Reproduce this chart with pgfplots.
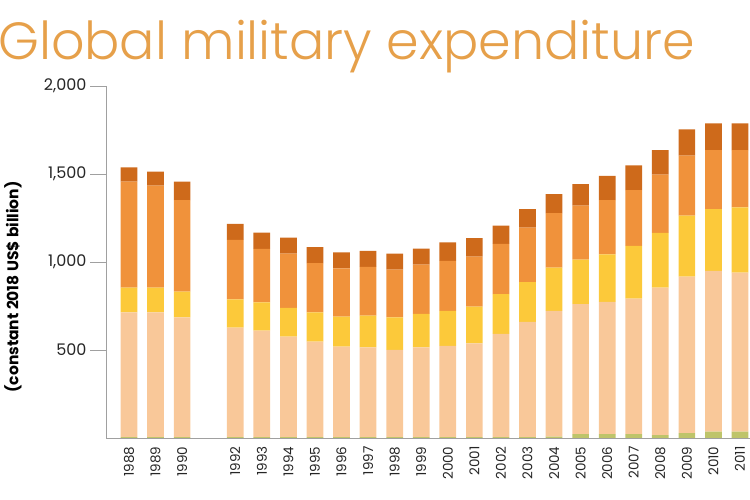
\documentclass[border=0pt]{standalone}
\usepackage{fontspec}
\setmainfont{Poppins}
\newfontfamily\titlefont{Poppins Light}
\usepackage{pgfplots}
\pgfplotsset{compat=1.18}
\usepackage{pgfplotstable}
\definecolor{cgreen}{HTML}{BEC46A}
\definecolor{cpeach}{HTML}{F9C899}
\definecolor{cyellow}{HTML}{FCC93A}
\definecolor{corange}{HTML}{F0923B}
\definecolor{cdark}{HTML}{CE6A1B}
\definecolor{ctitle}{HTML}{E6A04A}
\definecolor{axisgray}{HTML}{A0A0A0}
\pgfplotstableread{
year green peach yellow orange dark
1988 5 709 140 602 82
1989 5 709 140 580 79
1990 5 681 145 521 104
1992 5 622 161 337 91
1993 5 605 161 303 93
1994 5 571 164 308 90
1995 5 542 167 279 91
1996 5 514 170 275 91
1997 5 510 180 277 91
1998 5 495 186 270 91
1999 5 510 190 280 91
2000 5 518 199 284 106
2001 5 533 208 284 105
2002 5 586 226 286 103
2003 5 655 225 310 105
2004 8 714 246 309 109
2005 22 738 253 307 123
2006 22 752 270 308 138
2007 22 770 299 318 140
2008 17 837 311 331 139
2009 28 889 346 341 150
2010 36 913 352 335 152
2011 36 903 372 325 152
}\data
\begin{document}
\begin{tikzpicture}[x=1pt,y=1pt]
\path[use as bounding box] (0,0) rectangle (750,500);
\clip (0,0) rectangle (750,500);
\node[anchor=base west, inner sep=0pt, text=ctitle, font=\titlefont\fontsize{52.3}{52.3}\selectfont] at (-2,440) {Global military expenditure};
\node[rotate=90, inner sep=0pt, font=\bfseries\fontsize{15.5}{15.5}\selectfont, text=black] at (13,213) {(constant 2018 US\$ billion)};
\begin{axis}[
  at={(106pt,62pt)}, anchor=south west,
  scale only axis, width=644pt, height=352pt,
  ybar stacked, bar width=16.7pt,
  xmin=1987.134, xmax=2011.376, ymin=0, ymax=2000,
  axis x line*=bottom, axis y line*=left,
  axis line style={draw=axisgray, line width=0.8pt},
  /pgf/number format/assume math mode=true,
  xtick=data,
  x tick label style={/pgf/number format/1000 sep={}, rotate=90, anchor=east, font=\fontsize{13.5}{13.5}\selectfont, text=black!85},
  xticklabel shift=-11pt,
  xtick style={draw=none},
  ytick={500,1000,1500,2000},
  y tick label style={font=\fontsize{16}{16}\selectfont, text=black!85},
  ytick style={draw=axisgray, line width=0.8pt},
  tick align=outside,
  major tick length=16pt,
  clip=false,
]
\addplot[draw=none, fill=cgreen] table[x=year, y=green] {\data};
\addplot[draw=none, fill=cpeach] table[x=year, y=peach] {\data};
\addplot[draw=none, fill=cyellow] table[x=year, y=yellow] {\data};
\addplot[draw=none, fill=corange] table[x=year, y=orange] {\data};
\addplot[draw=none, fill=cdark] table[x=year, y=dark] {\data};
\end{axis}
\end{tikzpicture}
\end{document}
